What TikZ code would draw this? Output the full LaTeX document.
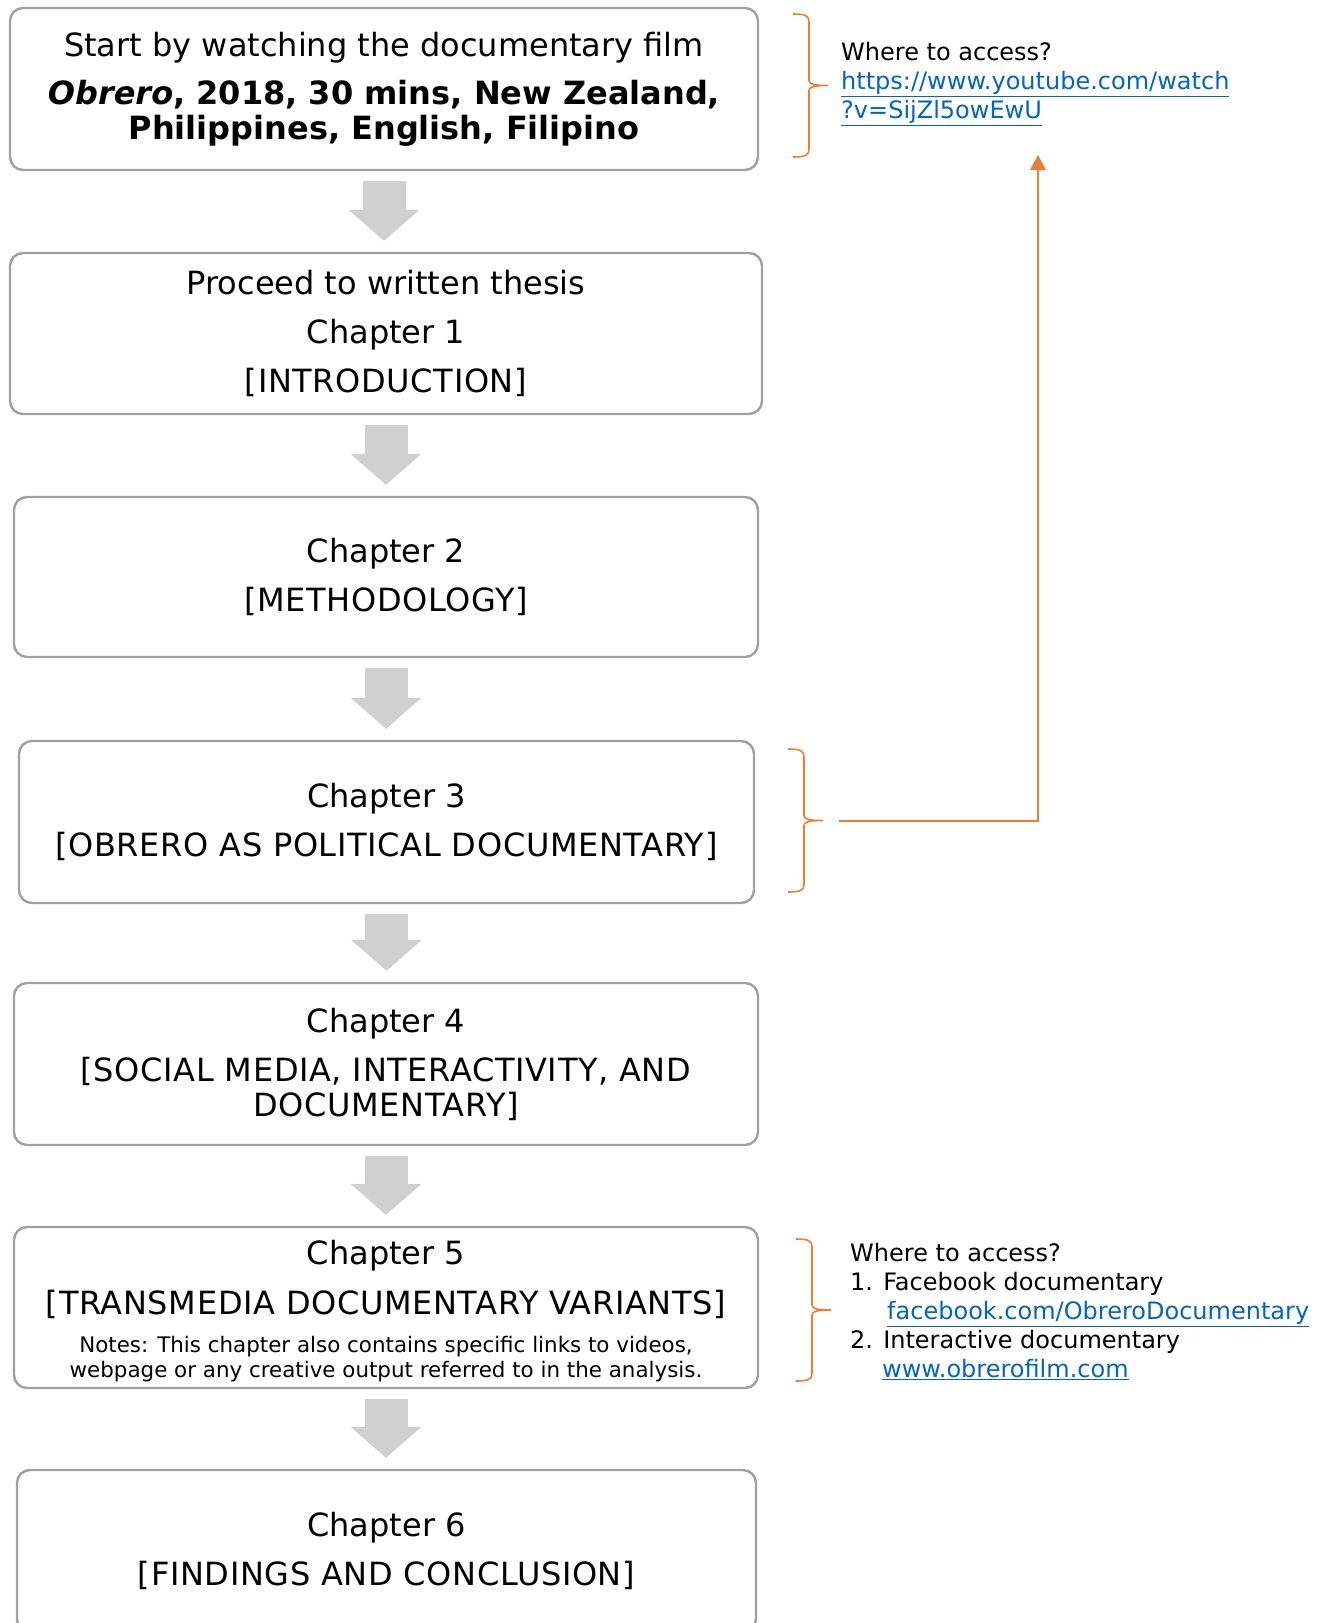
\documentclass[tikz,border=0pt]{standalone}
\usepackage{fontspec}
\setmainfont{DejaVu Sans}
\usetikzlibrary{arrows.meta,calc}
\definecolor{boxgray}{RGB}{160,160,160}
\definecolor{flowgray}{RGB}{208,208,208}
\definecolor{bracecol}{RGB}{237,125,49}
\definecolor{linkblue}{RGB}{5,99,193}
\newcommand{\bigtxt}{\fontsize{32}{35}\selectfont}
\newcommand{\sidetxt}{\fontsize{24}{29}\selectfont}
\newcommand{\notetxt}{\fontsize{21.4}{25}\selectfont}
\newcommand{\caps}[1]{{\addfontfeature{LetterSpace=2}#1}}
\newcommand{\weblink}[1]{{\color{linkblue}\underline{#1}}}
\tikzset{
  chap/.style ={draw=boxgray, line width=2.4pt, rounded corners=13pt, fill=white,
                align=center, inner sep=0pt, font=\bigtxt},
  flow/.style ={flowgray, line width=43pt,
                -{Triangle[length=31pt, width=71pt, line width=0pt]},
                shorten <=10pt, shorten >=11pt},
  brc/.style  ={bracecol, line width=1.6pt},
  jump/.style ={bracecol, line width=2pt,
                -{Triangle[length=15pt, width=16pt, line width=0pt]}},
  side/.style ={font=\sidetxt, align=left, anchor=north west, inner sep=0pt},
}
% right brace: tip name, left x, top y, bottom y
\newcommand{\sidebrace}[4]{%
  \draw[brc] (#2,#3) .. controls ({#2+13},#3) and ({#2+16},{#3+2}) .. ({#2+16},{#3+8})
    -- ({#2+16},{(#3+#4)/2-5})
    .. controls ({#2+16},{(#3+#4)/2-1}) and ({#2+22},{(#3+#4)/2}) .. ({#2+35},{(#3+#4)/2})
    coordinate (#1)
    .. controls ({#2+22},{(#3+#4)/2}) and ({#2+16},{(#3+#4)/2+1}) .. ({#2+16},{(#3+#4)/2+5})
    -- ({#2+16},{#4-8}) .. controls ({#2+16},{#4-2}) and ({#2+13},#4) .. (#2,#4);}

\begin{document}
\begin{tikzpicture}[x=1pt, y=-1pt]
  \useasboundingbox (0,0) rectangle (1327,1623);

  % reading order, top to bottom
  \node[chap, minimum width=748pt, minimum height=162pt] (start) at (384,89)
        {Start by watching the documentary film\\[13pt]
         {\bfseries\itshape Obrero}\textbf{, 2018, 30 mins, New Zealand,}\\
         \textbf{Philippines, English, Filipino}};
  \node[chap, minimum width=752pt, minimum height=161pt] (ch1) at (386,333.5)
        {Proceed to written thesis\\[14pt]Chapter 1\\[14pt]\caps{[INTRODUCTION]}};
  \node[chap, minimum width=744pt, minimum height=160pt] (ch2) at (386,577)
        {Chapter 2\\[14pt]\caps{[METHODOLOGY]}};
  \node[chap, minimum width=735pt, minimum height=162pt] (ch3) at (386.5,822)
        {Chapter 3\\[14pt]\caps{[OBRERO AS POLITICAL DOCUMENTARY]}};
  \node[chap, minimum width=744pt, minimum height=162pt] (ch4) at (386,1064)
        {Chapter 4\\[14pt]\caps{[SOCIAL MEDIA, INTERACTIVITY, AND}\\\caps{DOCUMENTARY]}};
  % taller strut on the first line pushes this block down a little
  \node[chap, minimum width=744pt, minimum height=161pt] (ch5) at (386,1307.5)
        {\rule{0pt}{32pt}Chapter 5\\[15pt]\caps{[TRANSMEDIA DOCUMENTARY VARIANTS]}\\[3pt]
         {\notetxt Notes: This chapter also contains specific links to videos,}\\[-10pt]
         {\notetxt webpage or any creative output referred to in the analysis.}};
  \node[chap, minimum width=739pt, minimum height=162pt] (ch6) at (386.5,1551)
        {Chapter 6\\[14pt]\caps{[FINDINGS AND CONCLUSION]}};

  \foreach \a/\b in {start/ch1, ch1/ch2, ch2/ch3, ch3/ch4, ch4/ch5, ch5/ch6}
    \draw[flow] (\a.south) -- (\a.south |- \b.north);

  % where to watch
  \sidebrace{tip0}{793}{14}{157}
  \node[side] (film) at (841,42)
        {Where to access?\\
         \weblink{https://www.youtube.com/watch}\\
         \weblink{?v=SijZl5owEwU}};
  \sidebrace{tip3}{788}{749}{892}
  \coordinate (filmend) at (1038,155);
  \draw[jump] ([xshift=16pt]tip3) -| (filmend);

  \sidebrace{tip5}{796}{1239}{1381}
  \node[side] (variants) at (850,1243)
        {Where to access?\\
         1. Facebook documentary\\
         \hspace*{37pt}\weblink{facebook.com/ObreroDocumentary}\\
         2. Interactive documentary\\
         \hspace*{32pt}\weblink{www.obrerofilm.com}};
\end{tikzpicture}
\end{document}
